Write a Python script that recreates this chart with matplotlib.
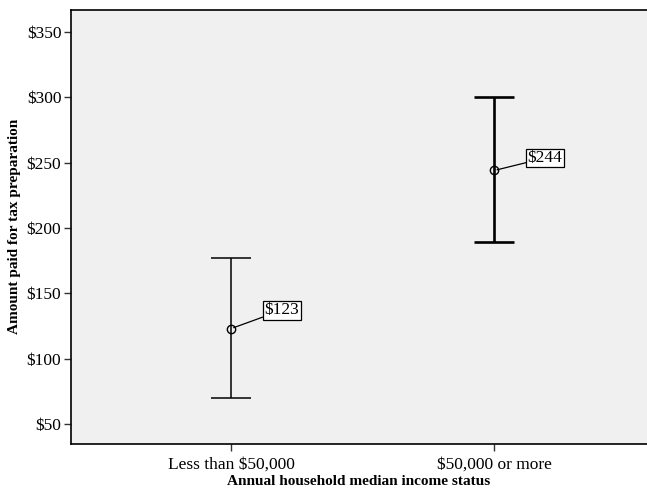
import matplotlib
matplotlib.use("Agg")
import matplotlib.pyplot as plt

groups = ["Less than $50,000", "$50,000 or more"]
means = [123, 244]
lower = [70, 189]
upper = [177, 300]
label_y = [131, 247.5]
yticks = [50, 100, 150, 200, 250, 300, 350]

plt.rcParams['font.family'] = ['Liberation Serif', 'DejaVu Serif']

fig = plt.figure(figsize=(6.47, 4.95), dpi=100)
ax = fig.add_axes([71 / 647, 1 - 444 / 495, 1 - 71 / 647, (444 - 9.5) / 495])
ax.set_facecolor("#f0f0f0")

widths = [1.1, 1.9]
for i, g in enumerate(groups):
    ax.errorbar(i, means[i], yerr=[[means[i] - lower[i]], [upper[i] - means[i]]],
                fmt='none', ecolor='black', elinewidth=widths[i], capsize=14.5,
                capthick=widths[i])
    ax.plot(i, means[i], 'o', mfc='none', mec='black', ms=6, mew=1.0, zorder=5)
    ax.annotate("$%d" % means[i], xy=(i, means[i]),
                xytext=(i + 0.127, label_y[i]),
                ha='left', va='bottom', fontsize=12.5,
                bbox=dict(boxstyle='square,pad=0.08', fc='white', ec='black', lw=0.9),
                arrowprops=dict(arrowstyle='-', color='black', lw=0.9,
                                shrinkA=0, shrinkB=2))

ax.set_xlim(-0.608, 1.58)
ax.set_ylim(34.7, 367.2)
ax.set_xticks(range(len(groups)))
ax.set_xticklabels(groups, fontsize=12.5)
ax.set_yticks(yticks)
ax.set_yticklabels(["$%d" % v for v in yticks], fontsize=12.5)
ax.tick_params(axis='both', length=5, width=1, color='#333333', pad=2)
ax.tick_params(axis='x', pad=4)

for s in ['left', 'bottom', 'top']:
    ax.spines[s].set_linewidth(1.2)
ax.spines['right'].set_visible(False)

ax.set_xlabel("Annual household median income status", fontsize=11, fontweight='bold', labelpad=2)
ax.set_ylabel("Amount paid for tax preparation", fontsize=11, fontweight='bold', labelpad=4)

fig.savefig("out.png", dpi=100)
